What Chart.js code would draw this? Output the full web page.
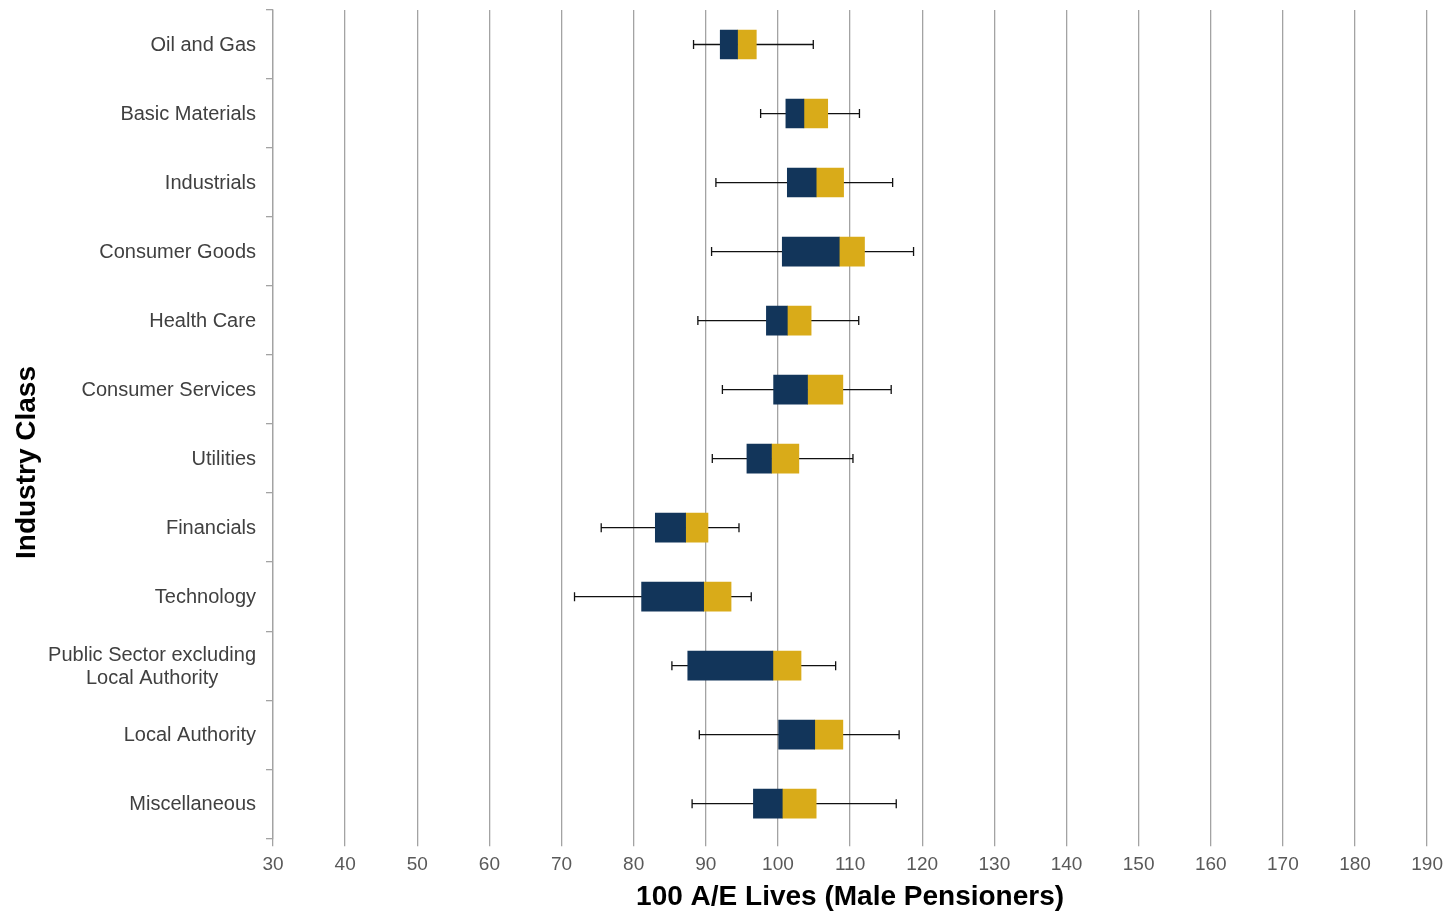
<!DOCTYPE html>
<html>
<head>
<meta charset="utf-8">
<title>100 A/E Lives (Male Pensioners) by Industry Class</title>
<script src="https://cdn.jsdelivr.net/npm/chart.js@4.4.1/dist/chart.umd.min.js"></script>
<style>
  html, body { margin: 0; padding: 0; background: #ffffff; }
  #wrap { width: 1450px; height: 913px; }
</style>
</head>
<body>
<div id="wrap"><canvas id="chart"></canvas></div>
<script>
// Industry classes, top to bottom
const categories = [
  'Oil and Gas',
  'Basic Materials',
  'Industrials',
  'Consumer Goods',
  'Health Care',
  'Consumer Services',
  'Utilities',
  'Financials',
  'Technology',
  ['Public Sector excluding', 'Local Authority'],
  'Local Authority',
  'Miscellaneous'
];

// 100 A/E statistics per industry class
const whiskerLow  = [88.3, 97.6, 91.4, 90.8, 88.9, 92.3, 90.9, 75.5, 71.8, 85.3, 89.1, 88.1];
const lowerQuart  = [92.0, 101.1, 101.3, 100.6, 98.4, 99.4, 95.7, 83.0, 81.1, 87.5, 100.1, 96.6];
const medianVal   = [94.4, 103.6, 105.3, 108.5, 101.3, 104.1, 99.1, 87.2, 89.7, 99.3, 105.1, 100.6];
const upperQuart  = [97.0, 106.9, 109.1, 112.0, 104.6, 109.0, 102.9, 90.3, 93.5, 103.2, 109.0, 105.3];
const whiskerHigh = [104.9, 111.3, 115.9, 118.8, 111.2, 115.7, 110.4, 94.6, 96.3, 108.0, 116.8, 116.4];

// Axis range and step
const xMin = 30;
const xMax = 190;
const xStep = 10;

const xTitle = '100 A/E Lives (Male Pensioners)';
const yTitle = 'Industry Class';

const FONT = "'Liberation Sans', Arial, Helvetica, sans-serif";
const NAVY = '#12355a';
const GOLD = '#d9ab19';
const GRID = '#a3a3a3';

// Whiskers drawn behind the boxes, from the x/y scales
const whiskerPlugin = {
  id: 'whiskers',
  beforeDatasetsDraw(chart) {
    const { ctx, scales: { x, y } } = chart;
    const cap = 4.5;
    ctx.save();
    ctx.strokeStyle = '#111111';
    ctx.lineWidth = 1.3;
    for (let i = 0; i < categories.length; i++) {
      const cy = y.getPixelForValue(i);
      const x0 = x.getPixelForValue(whiskerLow[i]);
      const x1 = x.getPixelForValue(whiskerHigh[i]);
      ctx.beginPath();
      ctx.moveTo(x0, cy);
      ctx.lineTo(x1, cy);
      ctx.moveTo(x0, cy - cap);
      ctx.lineTo(x0, cy + cap);
      ctx.moveTo(x1, cy - cap);
      ctx.lineTo(x1, cy + cap);
      ctx.stroke();
    }
    ctx.restore();
  }
};

// Category labels (multi-line labels centred on their own block) and the y title
const yLabelPlugin = {
  id: 'yLabels',
  afterDraw(chart) {
    const { ctx, chartArea, scales: { y } } = chart;
    const right = chartArea.left - 17;
    const lineH = 23;
    ctx.save();
    ctx.font = `20px ${FONT}`;
    ctx.fillStyle = '#404040';
    ctx.textBaseline = 'middle';
    for (let i = 0; i < categories.length; i++) {
      const lines = Array.isArray(categories[i]) ? categories[i] : [categories[i]];
      const cy = y.getPixelForValue(i) + 1;
      const widths = lines.map(l => ctx.measureText(l).width);
      const blockW = Math.max(...widths);
      const startY = cy - (lines.length - 1) * lineH / 2;
      lines.forEach((l, k) => {
        if (lines.length === 1) {
          ctx.textAlign = 'right';
          ctx.fillText(l, right, startY);
        } else {
          ctx.textAlign = 'center';
          ctx.fillText(l, right - blockW / 2, startY + k * lineH);
        }
      });
    }
    // rotated y-axis title
    ctx.font = `bold 28px ${FONT}`;
    ctx.fillStyle = '#000000';
    ctx.textAlign = 'center';
    ctx.translate(27, chart.height / 2 + 6);
    ctx.rotate(-Math.PI / 2);
    ctx.fillText(yTitle, 0, 0);
    ctx.restore();
  }
};

new Chart(document.getElementById('chart'), {
  type: 'bar',
  data: {
    labels: categories,
    datasets: [
      {
        label: 'Lower quartile to median',
        data: lowerQuart.map((v, i) => [v, medianVal[i]]),
        backgroundColor: NAVY,
        borderWidth: 0,
        grouped: false,
        barThickness: 29
      },
      {
        label: 'Median to upper quartile',
        data: medianVal.map((v, i) => [v, upperQuart[i]]),
        backgroundColor: GOLD,
        borderWidth: 0,
        grouped: false,
        barThickness: 29
      }
    ]
  },
  options: {
    indexAxis: 'y',
    responsive: true,
    maintainAspectRatio: false,
    animation: false,
    layout: { padding: { left: 266, right: 22, top: 10, bottom: 0 } },
    plugins: {
      legend: { display: false },
      tooltip: { enabled: false },
      title: { display: false }
    },
    scales: {
      x: {
        type: 'linear',
        min: xMin,
        max: xMax,
        ticks: {
          stepSize: xStep,
          color: '#595959',
          font: { family: FONT, size: 19 },
          padding: 7,
          maxRotation: 0
        },
        grid: {
          color: GRID,
          lineWidth: 1.3,
          drawTicks: true,
          tickLength: 8
        },
        border: { display: false },
        title: {
          display: true,
          text: xTitle,
          color: '#000000',
          font: { family: FONT, size: 28, weight: 'bold', lineHeight: 1 },
          padding: { top: 0, bottom: 2 }
        }
      },
      y: {
        type: 'category',
        offset: true,
        ticks: { display: false },
        grid: {
          display: true,
          offset: true,
          drawOnChartArea: false,
          drawTicks: true,
          tickLength: 7,
          color: GRID,
          lineWidth: 1.3
        },
        border: { display: true, color: GRID, width: 1.3 }
      }
    }
  },
  plugins: [whiskerPlugin, yLabelPlugin]
});
</script>
</body>
</html>
